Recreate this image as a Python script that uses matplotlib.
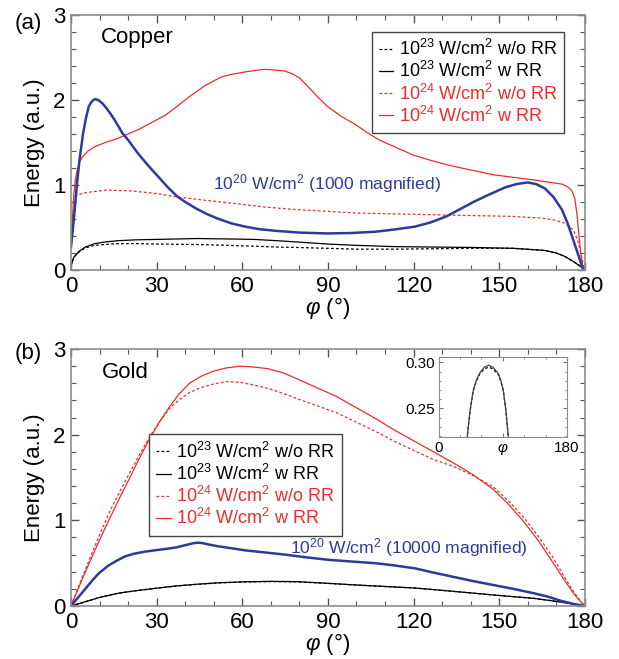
"""Energy vs. angle for copper and gold targets (two panels)."""
import matplotlib
matplotlib.use("Agg")
import matplotlib.pyplot as plt
from matplotlib.ticker import MultipleLocator


# %% Daten
# Panel (a) - Copper
cu_blue_phi = [0, 1, 2, 3, 4.2, 5.2, 6.2, 7.2, 8.3, 9.5, 11, 12.5, 13.8, 15.2, 16.6,
               18, 20, 23.5, 27, 30.5, 34, 37.4, 40.5, 44, 47.5, 51, 56, 61, 66,
               72, 80, 90, 98, 106.6, 113, 120.5, 126, 131.5, 136, 141, 146, 152,
               156, 160, 163, 166, 169, 172, 174, 176, 178, 179.3, 180]
cu_blue = [0.27, 0.6, 0.98, 1.3, 1.6, 1.78, 1.92, 1.98, 2.01, 2.0, 1.96, 1.9, 1.84,
           1.77, 1.69, 1.61, 1.53, 1.37, 1.23, 1.10, 0.97, 0.86, 0.79, 0.72, 0.66,
           0.61, 0.55, 0.51, 0.48, 0.46, 0.44, 0.43, 0.435, 0.45, 0.475, 0.51,
           0.56, 0.63, 0.71, 0.80, 0.88, 0.97, 1.01, 1.03, 1.01, 0.96, 0.86, 0.71,
           0.55, 0.35, 0.15, 0.02, 0.0]

cu_red_phi = [0, 0.5, 1, 1.5, 2, 3, 4, 6, 8.3, 12, 16.6, 20, 23.5, 28, 33, 37, 41.5,
              47, 52.6, 56, 61, 65, 68, 72, 75, 78, 80, 83, 86, 90, 95, 99.7, 104,
              108, 114, 120, 127, 134, 141, 148, 155, 162, 168, 172, 174, 175.5,
              176.5, 177.3, 177.9, 178.6, 179.3, 180]
cu_red_rr = [0.27, 0.6, 0.9, 1.05, 1.15, 1.27, 1.33, 1.4, 1.45, 1.5, 1.55, 1.6,
             1.65, 1.73, 1.82, 1.92, 2.04, 2.17, 2.27, 2.3, 2.33, 2.35, 2.36, 2.35,
             2.34, 2.3, 2.26, 2.16, 2.05, 1.92, 1.8, 1.71, 1.61, 1.53, 1.44, 1.35,
             1.28, 1.22, 1.17, 1.12, 1.09, 1.06, 1.03, 1.01, 0.98, 0.93, 0.84, 0.65,
             0.43, 0.2, 0.02, 0.0]

cu_red2_phi = [0, 0.5, 1, 2, 5, 12.5, 21, 30, 37, 47, 58, 68, 79, 90, 100, 113,
               127, 141, 155, 165, 169, 173, 176, 177.5, 178.6, 180]
cu_red_norr = [0.27, 0.5, 0.7, 0.88, 0.91, 0.94, 0.93, 0.9, 0.86, 0.82, 0.78,
               0.74, 0.71, 0.69, 0.67, 0.66, 0.65, 0.64, 0.63, 0.61, 0.59, 0.55,
               0.47, 0.35, 0.2, 0.0]

cu_blk_phi = [0, 1, 2.8, 5, 8.3, 12, 16.6, 23, 30.5, 44, 55, 64, 72, 79, 90, 100,
              113, 127, 141, 155, 166, 170, 173, 176, 178.6, 180]
cu_blk_rr = [0.05, 0.15, 0.22, 0.27, 0.31, 0.33, 0.345, 0.355, 0.36, 0.37, 0.365,
             0.36, 0.345, 0.33, 0.305, 0.29, 0.275, 0.27, 0.265, 0.255, 0.23, 0.2,
             0.16, 0.1, 0.04, 0.0]
cu_blk_norr = [0.05, 0.15, 0.21, 0.26, 0.29, 0.30, 0.31, 0.31, 0.305, 0.30, 0.29,
               0.28, 0.27, 0.265, 0.255, 0.245, 0.245, 0.25, 0.255, 0.255, 0.23,
               0.2, 0.16, 0.1, 0.04, 0.0]

# Panel (b) - Gold
au_red_phi = [0, 3.5, 6.9, 10.4, 13.8, 17.3, 20.8, 24.2, 27.7, 31, 34.6, 38, 41.5,
              45.5, 49.8, 54.5, 59.5, 64, 69, 74.5, 80, 86, 92.8, 99.7, 106.6,
              113.5, 120.5, 127, 134, 141, 148, 153.5, 159, 164, 169, 172.5, 176,
              178, 180]
au_red_rr = [0, 0.28, 0.54, 0.8, 1.04, 1.28, 1.51, 1.74, 1.96, 2.15, 2.33, 2.48,
             2.60, 2.68, 2.74, 2.78, 2.80, 2.79, 2.77, 2.72, 2.64, 2.55, 2.45, 2.32,
             2.19, 2.05, 1.92, 1.80, 1.67, 1.53, 1.36, 1.18, 0.97, 0.75, 0.50,
             0.32, 0.15, 0.07, 0]
au_red_norr = [0, 0.30, 0.58, 0.86, 1.12, 1.35, 1.57, 1.78, 1.98, 2.15, 2.31, 2.41,
               2.49, 2.55, 2.59, 2.62, 2.61, 2.58, 2.54, 2.48, 2.41, 2.34, 2.26,
               2.15, 2.04, 1.92, 1.81, 1.71, 1.63, 1.52, 1.39, 1.22, 1.02, 0.80,
               0.56, 0.36, 0.17, 0.08, 0]

au_blue_phi = [0, 2.5, 5, 7.5, 9.7, 13, 16.6, 19, 22, 26, 30.5, 34, 37, 40, 42.5,
               44.3, 46, 48, 51, 55, 61, 68, 75, 82, 90, 98, 106.6, 113, 120.5,
               127, 134, 141, 148, 155, 162, 167, 171.7, 176, 180]
au_blue = [0, 0.1, 0.2, 0.3, 0.38, 0.47, 0.54, 0.58, 0.61, 0.635, 0.655, 0.67,
           0.685, 0.71, 0.73, 0.74, 0.735, 0.72, 0.70, 0.68, 0.65, 0.625, 0.60,
           0.57, 0.54, 0.52, 0.50, 0.475, 0.44, 0.39, 0.34, 0.29, 0.245, 0.2,
           0.15, 0.11, 0.06, 0.025, 0]

au_blk_phi = [0, 5, 10, 16.6, 23, 30.5, 37, 44.3, 52, 61, 70, 79, 90, 100, 110,
              120.5, 131, 141, 151, 162, 171, 180]
au_blk_rr = [0, 0.05, 0.1, 0.15, 0.18, 0.21, 0.235, 0.255, 0.272, 0.283, 0.288,
             0.285, 0.265, 0.245, 0.228, 0.21, 0.18, 0.15, 0.12, 0.09, 0.05, 0]
au_blk_norr = [0, 0.05, 0.1, 0.15, 0.18, 0.21, 0.234, 0.253, 0.27, 0.28, 0.285,
               0.282, 0.264, 0.245, 0.228, 0.21, 0.18, 0.15, 0.12, 0.09, 0.05, 0]

# Inset (Gold, 10^23 W/cm^2)
ins_phi = [38, 40, 44, 48.5, 53, 58, 64, 70, 76, 83.6, 87, 90.6, 94, 97.7, 100]
ins_rr = [0.20, 0.219, 0.248, 0.270, 0.281, 0.289, 0.295, 0.297, 0.295, 0.288,
          0.281, 0.270, 0.25, 0.219, 0.20]
ins_norr = [0.20, 0.219, 0.247, 0.269, 0.280, 0.288, 0.293, 0.295, 0.293, 0.287,
            0.280, 0.269, 0.249, 0.219, 0.20]

labels = ['10$^{23}$ W/cm$^{2}$ w/o RR', '10$^{23}$ W/cm$^{2}$ w RR',
          '10$^{24}$ W/cm$^{2}$ w/o RR', '10$^{24}$ W/cm$^{2}$ w RR']


# %% Stil
plt.rcParams['font.family'] = ['Liberation Sans', 'DejaVu Sans']
plt.rcParams['mathtext.fontset'] = 'custom'
plt.rcParams['mathtext.rm'] = 'Liberation Sans'
plt.rcParams['mathtext.it'] = 'Liberation Sans:italic'

RED = '#ee2b2b'
BLUE = '#2d3a9c'
GREY = '#8c8c8c'
DASH = (0, (2.2, 1.8))


def style_axes(ax):
    ax.set_xlim(0, 180)
    ax.set_ylim(0, 3)
    ax.xaxis.set_major_locator(MultipleLocator(30))
    ax.xaxis.set_minor_locator(MultipleLocator(10))
    ax.yaxis.set_major_locator(MultipleLocator(1))
    ax.yaxis.set_minor_locator(MultipleLocator(0.2))
    ax.tick_params(which='both', direction='in', top=True, right=True,
                   color='#555555', labelsize=16, pad=4)
    ax.tick_params(which='major', length=6, width=1)
    ax.tick_params(which='minor', length=3.5, width=0.8)
    for s in ax.spines.values():
        s.set_color(GREY)
        s.set_linewidth(1.2)
    ax.set_xlabel(r'$\mathit{φ}$ (°)', fontsize=16, labelpad=-1)
    ax.set_ylabel('Energy (a.u.)', fontsize=16, labelpad=6)


def add_legend(ax, anchor):
    leg = ax.legend(loc='upper left', bbox_to_anchor=anchor, fontsize=13,
                    handlelength=0.8, handletextpad=0.3, labelspacing=0.12,
                    borderaxespad=0, borderpad=0.4, fancybox=False,
                    framealpha=1, edgecolor='#444444', labelcolor='linecolor')
    leg.get_frame().set_linewidth(1)


fig = plt.figure(figsize=(6.19, 6.59), dpi=100)
ax1 = fig.add_axes([0.1147, 0.5903, 0.830, 0.387])
ax2 = fig.add_axes([0.1147, 0.0804, 0.830, 0.390])

# %% (a) Copper
ax1.plot(cu_blk_phi, cu_blk_norr, color='black', lw=0.9, ls=DASH, label=labels[0])
ax1.plot(cu_blk_phi, cu_blk_rr, color='black', lw=0.9, label=labels[1])
ax1.plot(cu_red2_phi, cu_red_norr, color=RED, lw=0.9, ls=DASH, label=labels[2])
ax1.plot(cu_red_phi, cu_red_rr, color=RED, lw=0.9, label=labels[3])
ax1.plot(cu_blue_phi, cu_blue, color=BLUE, lw=1.8)
style_axes(ax1)
ax1.text(10.4, 2.73, 'Copper', fontsize=16, va='center')
ax1.text(49.8, 0.95, '10$^{20}$ W/cm$^{2}$ (1000 magnified)', color=BLUE,
         fontsize=12.6, va='baseline')
add_legend(ax1, (0.585, 0.9345))

# %% (b) Gold
ax2.plot(au_blk_phi, au_blk_norr, color='black', lw=0.9, ls=DASH, label=labels[0])
ax2.plot(au_blk_phi, au_blk_rr, color='black', lw=0.9, label=labels[1])
ax2.plot(au_red_phi, au_red_norr, color=RED, lw=0.9, ls=DASH, label=labels[2])
ax2.plot(au_red_phi, au_red_rr, color=RED, lw=0.9, label=labels[3])
ax2.plot(au_blue_phi, au_blue, color=BLUE, lw=1.8)
style_axes(ax2)
ax2.text(10.7, 2.73, 'Gold', fontsize=16, va='center')
ax2.text(76.8, 0.61, '10$^{20}$ W/cm$^{2}$ (10000 magnified)', color=BLUE,
         fontsize=12.6, va='baseline')
add_legend(ax2, (0.152, 0.668))

# Inset
axi = fig.add_axes([0.7087, 0.3369, 0.2073, 0.1214])
axi.plot(ins_phi, ins_norr, color='black', lw=0.9, ls=DASH)
axi.plot(ins_phi, ins_rr, color='#444444', lw=0.9)
axi.set_xlim(0, 180)
axi.set_ylim(0.219, 0.306)
axi.set_xticks([0, 90, 180])
axi.set_xticklabels(['0', 'φ', '180'])
axi.get_xticklabels()[1].set_style('italic')
axi.set_yticks([0.25, 0.30])
axi.set_yticklabels(['0.25', '0.30'])
axi.xaxis.set_minor_locator(MultipleLocator(30))
axi.yaxis.set_minor_locator(MultipleLocator(0.01))
axi.tick_params(which='both', direction='in', top=True, right=True,
                color='#777777', labelsize=11, pad=3)
axi.tick_params(which='major', length=3)
axi.tick_params(which='minor', length=1.5)
for s in axi.spines.values():
    s.set_color(GREY)

# Panel-Beschriftungen
fig.text(15 / 619, 1 - 24 / 659, '(a)', fontsize=16, va='center')
fig.text(15 / 619, 1 - 354 / 659, '(b)', fontsize=16, va='center')

fig.savefig('out.png', dpi=100)
